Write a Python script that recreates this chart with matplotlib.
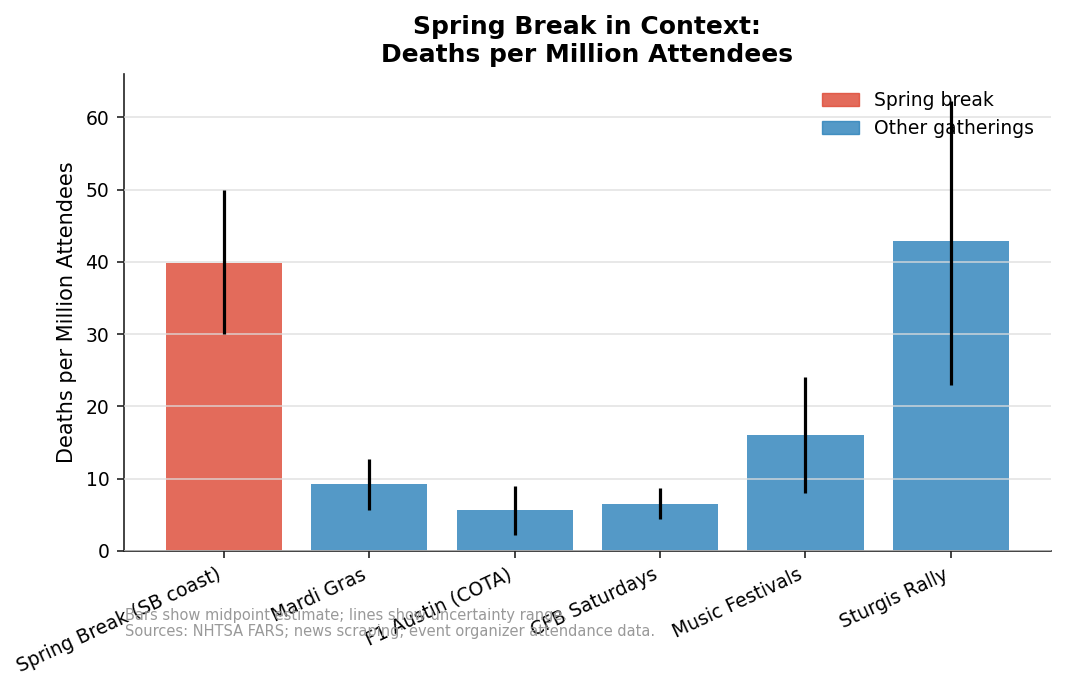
import matplotlib
matplotlib.use("Agg")
import matplotlib.pyplot as plt
from matplotlib.patches import Patch

events = ["Spring Break (SB coast)", "Mardi Gras", "F1 Austin (COTA)",
          "CFB Saturdays", "Music Festivals", "Sturgis Rally"]
midpoint = [39.9, 9.3, 5.7, 6.5, 16.0, 42.9]
low = [30.0, 5.7, 2.2, 4.4, 8.0, 22.9]
high = [50.0, 12.7, 9.0, 8.7, 24.0, 62.2]
is_spring = [True, False, False, False, False, False]

red = "#dd4632"
blue = "#2980b9"
colors = [red if s else blue for s in is_spring]

fig, ax = plt.subplots(figsize=(10.66, 6.92), dpi=100)
fig.subplots_adjust(left=0.116, right=0.986, top=0.893, bottom=0.204)

x = range(len(events))
ax.bar(x, midpoint, color=colors, alpha=0.8, width=0.8, zorder=1)
ax.vlines(x, low, high, color="black", linewidth=2.3, zorder=3)

ax.set_ylim(0, 66)
ax.set_yticks(range(0, 61, 10))
ax.yaxis.grid(True, color="#dddddd", alpha=0.8, linewidth=1.2, zorder=2)
ax.set_axisbelow(False)
for side in ["top", "right"]:
    ax.spines[side].set_visible(False)
for side in ["left", "bottom"]:
    ax.spines[side].set_color("#222222")
    ax.spines[side].set_linewidth(1.2)
ax.tick_params(labelsize=13.5, color="#222222", width=1.2, length=5.25, pad=5)

ax.set_xticks(list(x))
ax.set_xticklabels(events, rotation=25, ha="right")
ax.set_ylabel("Deaths per Million Attendees", fontsize=15, labelpad=6)
ax.set_title("Spring Break in Context:\nDeaths per Million Attendees",
             fontsize=18, fontweight="bold", pad=9)

handles = [Patch(facecolor=red, edgecolor=red, alpha=0.8, label="Spring break"),
           Patch(facecolor=blue, edgecolor=blue, alpha=0.8, label="Other gatherings")]
ax.legend(handles=handles, loc="upper right", frameon=False, fontsize=13.5)

fig.text(0.117, 0.077,
         "Bars show midpoint estimate; lines show uncertainty range.\n"
         "Sources: NHTSA FARS; news scraping; event organizer attendance data.",
         fontsize=10.5, color="#999999", ha="left", va="bottom", linespacing=1.1)

fig.savefig("out.png", dpi=100)
